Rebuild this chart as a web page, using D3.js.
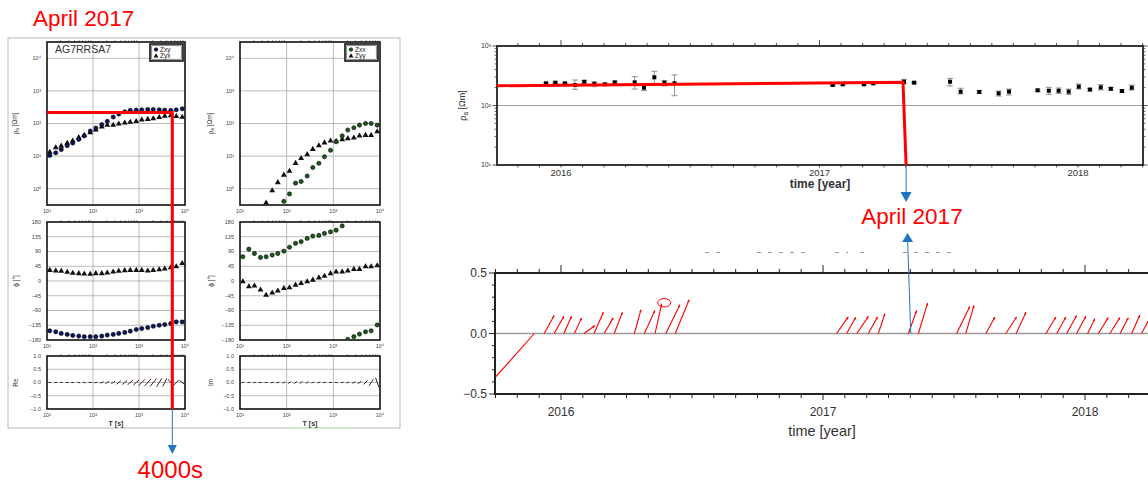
<!DOCTYPE html>
<html>
<head>
<meta charset="utf-8">
<script src="https://cdn.jsdelivr.net/npm/d3@7"></script>
<style>
  body { margin: 0; background: #fff; }
  svg { display: block; }
  text { font-family: "Liberation Sans", Arial, sans-serif; }
</style>
</head>
<body>
<div id="chart"></div>
<script>
// ---- sounding curves, station AG7RRSA7 (left) ----
const periods = [11.5, 15.5, 20.4, 27.5, 36.3, 49, 64.6, 87.1, 115, 155, 204, 275, 363, 490, 646, 871, 1148, 1549, 2042, 2754, 3631, 4898, 6457, 8710];
const rhoZxy = [10.5, 12.6, 15.8, 20.9, 25.1, 32.4, 41.7, 58.9, 72.4, 93.3, 117, 158, 195, 229, 251, 257, 263, 269, 269, 263, 257, 251, 263, 282];
const rhoZyx = [13.2, 18.2, 20.4, 25.1, 29.5, 37.2, 43.7, 52.5, 64.6, 79.4, 89.1, 89.1, 97.7, 105, 110, 117, 129, 135, 141, 155, 170, 174, 166, 158];
const rhoZxx = [null, null, null, null, null, null, null, 0.41, 0.69, 1.48, 1.66, 2.45, 4.47, 6.03, 9.55, 15.1, 27.5, 41.7, 63.1, 74.1, 89.1, 100, 100, 89.1];
const rhoZyy = [null, null, null, null, 0.37, 0.87, 1.55, 2.63, 3.47, 6.03, 8.51, 11.2, 16.2, 20.9, 25.7, 29.5, 28.8, 32.4, 34.7, 36.3, 41.7, 43.7, 43.7, 56.2];
const phiZxy = [-152, -155, -160, -163, -166, -168, -170, -170, -170, -168, -165, -163, -160, -157, -153, -148, -145, -142, -138, -135, -133, -130, -125, -125];
const phiZyx = [33, 31, 30, 27, 24, 23, 22, 21, 23, 23, 25, 28, 30, 32, 33, 33, 33, 31, 33, 35, 37, 41, 44, 54];
const phiZxx = [74, 97, 84, 72, 74, 79, 84, 91, 103, 115, 120, 130, 137, 139, 145, 150, 155, 168, -178, -170, -162, -155, -152, -134];
const phiZyy = [-2, -17, -15, -27, -43, -36, -30, -22, -20, -12, -7, -2, 3, 10, 15, 23, 28, 28, 31, 36, 36, 44, 44, 47];
const tipReU = [0.1, 0.1, 0.1, 0.1, 0.1, 0.1, 0.1, 0.12, 0.12, 0.13, 0.14, 0.15, 0.16, 0.18, 0.2, 0.22, 0.24, 0.25, 0.24, 0.2, 0.15, 0.2, 0.2, 0.2];
const tipReV = [0, 0.01, 0, 0, 0, -0.02, -0.03, 0, 0.02, 0.05, 0.08, 0.1, 0.13, 0.15, 0.17, 0.2, 0.24, 0.28, 0.3, 0.32, 0.3, -0.25, 0.2, -0.15];
const tipImU = [0.1, 0.1, 0.1, 0.1, 0.1, 0.1, 0.1, 0.1, 0.1, 0.1, 0.1, 0.1, 0.1, 0.1, 0.1, 0.1, 0.1, 0.1, 0.1, 0.12, 0.14, 0.15, 0.16, 0.12];
const tipImV = [0.02, 0.02, 0.02, 0, 0, 0.02, 0.04, 0.06, 0.08, 0.08, 0.08, 0.06, 0.04, 0.04, 0.02, 0, -0.02, 0.02, 0.04, 0.06, 0.1, 0.15, 0.25, -0.35];

// ---- apparent resistivity at one period vs time (top right) ----
const rhoDates = [2015.942, 2015.978, 2016.015, 2016.054, 2016.090, 2016.129, 2016.170, 2016.208, 2016.285, 2016.321, 2016.361, 2016.400, 2016.439,
  2017.051, 2017.090, 2017.172, 2017.208, 2017.327, 2017.366, 2017.505, 2017.546, 2017.618, 2017.693, 2017.733, 2017.844, 2017.887, 2017.925, 2017.964, 2018.003, 2018.046, 2018.088, 2018.127, 2018.170, 2018.208];
const rhoVals = [236, 242, 236, 221, 251, 230, 227, 245, 245, 199, 298, 242, 236,
  221, 227, 227, 236, 251, 242, 251, 171, 169, 160, 171, 180, 177, 177, 171, 207, 185, 202, 191, 175, 199];
const rhoLo = [228, 234, 230, 187, 240, 207, 218, 236, 189, 178, 236, 213, 146,
  214, 220, 220, 229, 230, 235, 213, 156, 160, 144, 150, 172, 154, 160, 154, 189, 176, 182, 182, 167, 182];
const rhoHi = [244, 250, 242, 268, 262, 251, 236, 256, 305, 221, 376, 261, 326,
  228, 234, 234, 243, 275, 250, 286, 195, 178, 175, 189, 188, 202, 197, 189, 230, 194, 224, 200, 184, 221];

// ---- transfer function vectors vs time (bottom right) ----
const vecDates = [2015.898, 2015.936, 2015.974, 2016.011, 2016.051, 2016.088, 2016.126, 2016.165, 2016.203, 2016.280, 2016.318, 2016.359, 2016.400, 2016.436,
  2017.052, 2017.090, 2017.129, 2017.173, 2017.211, 2017.326, 2017.364, 2017.510, 2017.545, 2017.622, 2017.698, 2017.737,
  2017.851, 2017.892, 2017.930, 2017.968, 2018.010, 2018.051, 2018.095, 2018.134, 2018.178, 2018.216];
const vecU = [-0.40, 0.082, 0.08, 0.063, 0.06, 0.09, 0.077, 0.074, 0.068, 0.055, 0.088, 0.055, 0.117, 0.115,
  0.096, 0.076, 0.096, 0.076, 0.055, 0.068, 0.076, 0.109, 0.068, 0.074, 0.088, 0.082,
  0.082, 0.076, 0.082, 0.076, 0.06, 0.082, 0.082, 0.068, 0.068, 0.074];
const vecV = [-0.45, 0.148, 0.142, 0.142, 0.129, 0.066, 0.175, 0.129, 0.175, 0.197, 0.19, 0.246, 0.238, 0.279,
  0.137, 0.134, 0.142, 0.137, 0.164, 0.19, 0.251, 0.224, 0.232, 0.137, 0.137, 0.175,
  0.137, 0.137, 0.148, 0.142, 0.123, 0.131, 0.131, 0.131, 0.153, 0.14];
const yearTicks = [2016, 2017, 2018];

// annotation values
const eventDate = 2017.323;
const picked = { period: 5300, rho: 218 };

const width = 1148, height = 485;
const RED = '#ff0000', BLUE = '#1f74c4';
const sup = { 0: '\u2070', 1: '\u00b9', 2: '\u00b2', 3: '\u00b3', 4: '\u2074' };
const pow10 = v => '10' + sup[Math.round(Math.log10(v))];
const minus = v => String(v).replace('-', '\u2212');

const svg = d3.select('#chart').append('svg')
    .attr('width', width)
    .attr('height', height);
svg.append('rect').attr('width', width).attr('height', height).attr('fill', '#fff');

const defs = svg.append('defs');
let clipN = 0;
function clip(x, y, w, h) {
    const id = 'clip' + (clipN++);
    defs.append('clipPath').attr('id', id)
        .append('rect').attr('x', x).attr('y', y).attr('width', w).attr('height', h);
    return `url(#${id})`;
}

function rhoTitle(t) {
    t.text('\u03c1');
    t.append('tspan').attr('font-size', '0.7em').attr('dy', '0.3em').text('a');
    t.append('tspan').attr('dy', '-0.3em').text(' [\u03a9m]');
}

// ================= left: screenshot of the sounding =================
svg.append('rect')
    .attr('x', 8).attr('y', 38).attr('width', 392).attr('height', 390)
    .attr('fill', '#fff').attr('stroke', '#cfcfcf').attr('stroke-width', 1.5);
svg.append('line').attr('x1', 287).attr('x2', 350).attr('y1', 428).attr('y2', 428)
    .attr('stroke', '#cfe8c8').attr('stroke-width', 1.5);

const panels = [
    { x0: 47, x1: 185, names: ['Zxy', 'Zyx'], dot: '#0a1760', rhoA: rhoZxy, rhoB: rhoZyx, phiA: phiZxy, phiB: phiZyx, tipU: tipReU, tipV: tipReV, tip: 'Re', titleX: 18 },
    { x0: 240, x1: 380, names: ['Zxx', 'Zyy'], dot: '#1c5a1c', rhoA: rhoZxx, rhoB: rhoZyy, phiA: phiZxx, phiB: phiZyy, tipU: tipImU, tipV: tipImV, tip: 'Im', titleX: 213 }
];
const tri = d3.symbol().type(d3.symbolTriangle).size(15);

panels.forEach((p, pi) => {
    const x = d3.scaleLog().domain([10, 1e4]).range([p.x0, p.x1]);
    const yR = d3.scaleLog().domain([Math.pow(10, -0.5), Math.pow(10, 4.5)]).range([205, 42]);
    const yP = d3.scaleLinear().domain([-180, 180]).range([340, 222]);
    const yT = d3.scaleLinear().domain([-1, 1]).range([409, 356]);
    const g = svg.append('g');

    const boxes = [
        { y: yR, ticks: [1, 10, 100, 1000, 10000], fmt: pow10, title: rhoTitle },
        { y: yP, ticks: d3.range(-180, 181, 45), fmt: minus, title: t => t.text('\u03d5 [\u00b0]') },
        { y: yT, ticks: [-1, -0.5, 0, 0.5, 1], fmt: d => minus(d.toFixed(1)), title: t => t.text(p.tip) }
    ];
    boxes.forEach((b, bi) => {
        const [yb, yt] = b.y.range();
        const bg = g.append('g');
        bg.selectAll(null).data([100, 1000]).join('line')
            .attr('x1', d => x(d)).attr('x2', d => x(d)).attr('y1', yt).attr('y2', yb)
            .attr('stroke', '#a9a9a9').attr('stroke-width', 0.8);
        bg.selectAll(null).data(b.ticks.filter(d => b.y(d) > yt + 1 && b.y(d) < yb - 1)).join('line')
            .attr('x1', p.x0).attr('x2', p.x1).attr('y1', d => b.y(d)).attr('y2', d => b.y(d))
            .attr('stroke', '#a9a9a9').attr('stroke-width', 0.8);
        bg.selectAll(null).data(b.ticks).join('text')
            .attr('x', p.x0 - 6).attr('y', d => b.y(d)).attr('dy', '0.35em')
            .attr('text-anchor', 'end').attr('font-size', 5.5).attr('fill', '#444')
            .text(b.fmt);
        bg.selectAll(null).data([10, 100, 1000, 10000]).join('text')
            .attr('x', d => x(d)).attr('y', yb + 8)
            .attr('text-anchor', 'middle').attr('font-size', 5.5).attr('fill', '#444')
            .text(pow10);
        // minor log ticks on the top edge
        const minors = [10, 100, 1000].flatMap(d => d3.range(2, 10).map(k => k * d));
        bg.selectAll(null).data(minors).join('line')
            .attr('x1', d => x(d)).attr('x2', d => x(d)).attr('y1', yt).attr('y2', yt - 2)
            .attr('stroke', '#555').attr('stroke-width', 0.6);
        bg.append('rect').attr('x', p.x0).attr('y', yt).attr('width', p.x1 - p.x0).attr('height', yb - yt)
            .attr('fill', 'none').attr('stroke', '#111').attr('stroke-width', 1.6);
        const tt = bg.append('text')
            .attr('transform', `translate(${p.titleX},${(yt + yb) / 2}) rotate(-90)`)
            .attr('text-anchor', 'middle').attr('font-size', 6.5).attr('fill', '#333');
        b.title(tt);
        b.clip = clip(p.x0, yt, p.x1 - p.x0, yb - yt);
    });
    g.append('text').attr('x', (p.x0 + p.x1) / 2).attr('y', 426)
        .attr('text-anchor', 'middle').attr('font-size', 7).attr('font-weight', 'bold').attr('fill', '#333')
        .text('T [s]');

    function points(gg, y, vals, circle) {
        const pts = periods.map((t, i) => [t, vals[i]]).filter(d => d[1] != null);
        if (circle) {
            gg.selectAll(null).data(pts).join('circle')
                .attr('cx', d => x(d[0])).attr('cy', d => y(d[1])).attr('r', 2.1)
                .attr('fill', p.dot).attr('stroke', '#000').attr('stroke-width', 0.6);
        } else {
            gg.selectAll(null).data(pts).join('path')
                .attr('d', tri)
                .attr('transform', d => `translate(${x(d[0])},${y(d[1])})`)
                .attr('fill', '#111');
        }
    }
    const gR = g.append('g').attr('clip-path', boxes[0].clip);
    points(gR, yR, p.rhoB, false);
    points(gR, yR, p.rhoA, true);
    const gP = g.append('g').attr('clip-path', boxes[1].clip);
    points(gP, yP, p.phiB, false);
    points(gP, yP, p.phiA, true);

    const unit = yT(0) - yT(1);
    g.append('g').attr('clip-path', boxes[2].clip)
        .selectAll(null).data(periods.map((t, i) => ({ t, u: p.tipU[i], v: p.tipV[i] }))).join('line')
        .attr('x1', d => x(d.t) - d.u * unit / 2).attr('x2', d => x(d.t) + d.u * unit / 2)
        .attr('y1', d => yT(-d.v / 2)).attr('y2', d => yT(d.v / 2))
        .attr('stroke', '#3b1f2c').attr('stroke-width', 1);

    // legend
    const lg = g.append('g').attr('transform', `translate(${p.x1 - 35},44)`);
    lg.append('rect').attr('width', 33).attr('height', 17).attr('fill', '#fff').attr('stroke', '#111').attr('stroke-width', 1.6);
    lg.append('rect').attr('x', 1.8).attr('y', 1.8).attr('width', 29.4).attr('height', 13.4).attr('fill', 'none').attr('stroke', '#111').attr('stroke-width', 0.5);
    lg.append('circle').attr('cx', 6).attr('cy', 5.5).attr('r', 1.8).attr('fill', p.dot).attr('stroke', '#000').attr('stroke-width', 0.5);
    lg.append('path').attr('d', d3.symbol().type(d3.symbolTriangle).size(10)).attr('transform', 'translate(6,12)').attr('fill', '#111');
    lg.selectAll(null).data(p.names).join('text')
        .attr('x', 10).attr('y', (d, i) => 7.8 + i * 6.5).attr('font-size', 6.5).attr('fill', '#222')
        .text(d => d);

    if (pi === 0) {
        g.append('text').attr('x', 55).attr('y', 53).attr('font-size', 10.5).attr('fill', '#333').text('AG7RRSA7');
        // picked period
        const xa = x(picked.period);
        g.append('path')
            .attr('d', `M${p.x0},${yR(picked.rho)}H${xa}V${yT(-1)}`)
            .attr('fill', 'none').attr('stroke', RED).attr('stroke-width', 3);
        g.append('line').attr('x1', xa).attr('x2', xa).attr('y1', yT(-1)).attr('y2', 446)
            .attr('stroke', BLUE).attr('stroke-width', 1);
        g.append('path').attr('d', `M${xa - 4.5},445L${xa + 4.5},445L${xa},454Z`).attr('fill', BLUE);
        svg.append('text').attr('x', xa - 2).attr('y', 478).attr('text-anchor', 'middle')
            .attr('font-family', 'Lato, "Open Sans", sans-serif').attr('font-size', 24).attr('fill', RED)
            .text('4000s');
    }
});

svg.append('text').attr('x', 33).attr('y', 26)
    .attr('font-family', 'Lato, "Open Sans", sans-serif').attr('font-size', 22.5).attr('fill', RED)
    .text('April 2017');

// ================= right top: rho_a vs time =================
const tX = d3.scaleLinear().domain([2016, 2018]).range([561, 1078]);
const rY = d3.scaleLog().domain([10, 1000]).range([165, 46]);
const tx0 = 497, tx1 = 1143;
const topG = svg.append('g');
const months = d3.range(-3, 28).map(m => 2016 + m / 12).filter(d => tX(d) >= tx0 && tX(d) <= tx1);
const isYear = d => Math.abs(d - Math.round(d)) < 1e-6;

topG.append('line').attr('x1', tx0).attr('x2', tx1).attr('y1', rY(100)).attr('y2', rY(100))
    .attr('stroke', '#888').attr('stroke-width', 0.8);
topG.selectAll(null).data(months).join('line')
    .attr('x1', d => tX(d)).attr('x2', d => tX(d))
    .attr('y1', 46).attr('y2', d => isYear(d) ? 40 : 43)
    .attr('stroke', '#222').attr('stroke-width', 0.8);
topG.selectAll(null).data(months).join('line')
    .attr('x1', d => tX(d)).attr('x2', d => tX(d))
    .attr('y1', 165).attr('y2', 167.5)
    .attr('stroke', '#222').attr('stroke-width', 0.8);
const logMinor = [10, 100].flatMap(d => d3.range(2, 10).map(k => k * d));
[tx0, tx1].forEach((xx, i) => {
    const s = i === 0 ? -1 : 1;
    topG.selectAll(null).data(logMinor).join('line')
        .attr('x1', xx).attr('x2', xx + s * 2.5).attr('y1', d => rY(d)).attr('y2', d => rY(d))
        .attr('stroke', '#222').attr('stroke-width', 0.7);
    topG.selectAll(null).data([10, 100, 1000]).join('line')
        .attr('x1', xx).attr('x2', xx + s * 4.5).attr('y1', d => rY(d)).attr('y2', d => rY(d))
        .attr('stroke', '#222').attr('stroke-width', 0.8);
});
topG.selectAll(null).data([10, 100, 1000]).join('text')
    .attr('x', tx0 - 6).attr('y', d => rY(d)).attr('dy', '0.35em')
    .attr('text-anchor', 'end').attr('font-size', 7).attr('fill', '#333')
    .text(pow10);
const rt = topG.append('text').attr('transform', `translate(466,${rY(100)}) rotate(-90)`)
    .attr('text-anchor', 'middle').attr('font-size', 9).attr('fill', '#333');
rhoTitle(rt);
topG.selectAll(null).data(yearTicks).join('text')
    .attr('x', d => tX(d)).attr('y', 176).attr('text-anchor', 'middle')
    .attr('font-size', 9.5).attr('fill', '#333').text(d => d);
topG.append('text').attr('x', 820).attr('y', 187.5).attr('text-anchor', 'middle')
    .attr('font-size', 12).attr('font-weight', 'bold').attr('fill', '#333').text('time [year]');

const rhoPts = rhoDates.map((t, i) => ({ t, v: rhoVals[i], lo: rhoLo[i], hi: rhoHi[i] }));
topG.append('g').attr('stroke', '#777').attr('stroke-width', 0.8)
    .selectAll(null).data(rhoPts).join('path')
    .attr('d', d => `M${tX(d.t)},${rY(d.lo)}V${rY(d.hi)}M${tX(d.t) - 3},${rY(d.lo)}h6M${tX(d.t) - 3},${rY(d.hi)}h6`)
    .attr('fill', 'none');
topG.selectAll(null).data(rhoPts).join('rect')
    .attr('x', d => tX(d.t) - 2).attr('y', d => rY(d.v) - 2).attr('width', 4).attr('height', 4)
    .attr('fill', '#000');
topG.append('rect').attr('x', tx0).attr('y', 46).attr('width', tx1 - tx0).attr('height', 119)
    .attr('fill', 'none').attr('stroke', '#222').attr('stroke-width', 1.8);

// step marking the change
topG.append('path')
    .attr('d', d3.line()([[tX(2015.752), rY(215)], [tX(eventDate), rY(245)], [tX(eventDate + 0.012), rY(10)]]))
    .attr('fill', 'none').attr('stroke', RED).attr('stroke-width', 3).attr('stroke-linejoin', 'miter');
const ax = tX(eventDate + 0.012);
topG.append('line').attr('x1', ax).attr('x2', ax).attr('y1', 165).attr('y2', 193).attr('stroke', BLUE).attr('stroke-width', 1);
topG.append('path').attr('d', `M${ax - 5.5},192L${ax + 5.5},192L${ax},202Z`).attr('fill', BLUE);
svg.append('text').attr('x', 912).attr('y', 224).attr('text-anchor', 'middle')
    .attr('font-family', 'Lato, "Open Sans", sans-serif').attr('font-size', 22.5).attr('fill', RED)
    .text('April 2017');

// ================= right bottom: vectors vs time =================
const bX = d3.scaleLinear().domain([2016, 2018]).range([561, 1085]);
const bY = d3.scaleLinear().domain([-0.5, 0.5]).range([394, 273]);
const bx0 = 495, bx1 = 1160;
const botG = svg.append('g');

// faint dashes left over above the panel
botG.selectAll(null).data([[705, 722], [757, 808], [835, 848], [860, 868], [903, 952]]).join('line')
    .attr('x1', d => d[0]).attr('x2', d => d[1]).attr('y1', 252.5).attr('y2', 252.5)
    .attr('stroke', '#999').attr('stroke-width', 1).attr('stroke-dasharray', '4,7');

botG.append('line').attr('x1', bx0).attr('x2', bx1).attr('y1', bY(0)).attr('y2', bY(0))
    .attr('stroke', '#9a9a9a').attr('stroke-width', 1.3);
const bMonths = d3.range(-3, 30).map(m => 2016 + m / 12).filter(d => bX(d) >= bx0);
botG.selectAll(null).data(bMonths).join('line')
    .attr('x1', d => bX(d)).attr('x2', d => bX(d))
    .attr('y1', 273).attr('y2', d => isYear(d) ? 265 : 269)
    .attr('stroke', '#222').attr('stroke-width', 1);
botG.selectAll(null).data(bMonths).join('line')
    .attr('x1', d => bX(d)).attr('x2', d => bX(d))
    .attr('y1', 394).attr('y2', d => isYear(d) ? 400 : 398)
    .attr('stroke', '#222').attr('stroke-width', 1);
botG.selectAll(null).data(d3.range(-5, 6).map(k => k / 10)).join('line')
    .attr('x1', bx0).attr('x2', d => bx0 - (Math.abs(Math.round(d * 10)) % 5 === 0 ? 6 : 3))
    .attr('y1', d => bY(d)).attr('y2', d => bY(d))
    .attr('stroke', '#222').attr('stroke-width', 1);
botG.selectAll(null).data([-0.5, 0, 0.5]).join('text')
    .attr('x', bx0 - 8).attr('y', d => bY(d)).attr('dy', '0.36em')
    .attr('text-anchor', 'end').attr('font-size', 12).attr('fill', '#333')
    .text(d => minus(d.toFixed(1)));
botG.selectAll(null).data(yearTicks).join('text')
    .attr('x', d => bX(d)).attr('y', 416).attr('text-anchor', 'middle')
    .attr('font-size', 12).attr('fill', '#333').text(d => d);
botG.append('text').attr('x', 822).attr('y', 436).attr('text-anchor', 'middle')
    .attr('font-size', 14.5).attr('fill', '#333').text('time [year]');

defs.append('marker').attr('id', 'head')
    .attr('viewBox', '0 0 10 10').attr('refX', 9).attr('refY', 5)
    .attr('markerWidth', 2.6).attr('markerHeight', 2.6).attr('orient', 'auto')
    .append('path').attr('d', 'M0,1L10,5L0,9Z').attr('fill', RED);
const unitB = bY(0) - bY(1);
const vecs = vecDates.map((t, i) => ({ t, u: vecU[i], v: vecV[i] }));
botG.append('g').attr('clip-path', clip(bx0, 273, bx1 - bx0, 121))
    .selectAll(null).data(vecs).join('line')
    .attr('x1', d => bX(d.t)).attr('y1', bY(0))
    .attr('x2', d => bX(d.t) + d.u * unitB).attr('y2', d => bY(d.v))
    .attr('stroke', RED).attr('stroke-width', 1.1)
    .attr('marker-end', d => d.u > 0 ? 'url(#head)' : null);
const ring = vecs[11];
botG.append('ellipse')
    .attr('cx', bX(ring.t) + ring.u * unitB + 2.5).attr('cy', bY(ring.v) - 1)
    .attr('rx', 6.5).attr('ry', 4.2)
    .attr('fill', 'none').attr('stroke', RED).attr('stroke-width', 1);

botG.append('path').attr('d', `M${bx0},273H${bx1}M${bx0},394H${bx1}M${bx0},272V395`)
    .attr('fill', 'none').attr('stroke', '#222').attr('stroke-width', 2);

const bx = bX(eventDate + 0.012), bt = bX(eventDate);
botG.append('line').attr('x1', bx).attr('y1', bY(0)).attr('x2', bt).attr('y2', 241)
    .attr('stroke', BLUE).attr('stroke-width', 1);
botG.append('path').attr('d', `M${bt - 5.5},242L${bt + 5.5},242L${bt},233Z`).attr('fill', BLUE);
</script>
</body>
</html>
